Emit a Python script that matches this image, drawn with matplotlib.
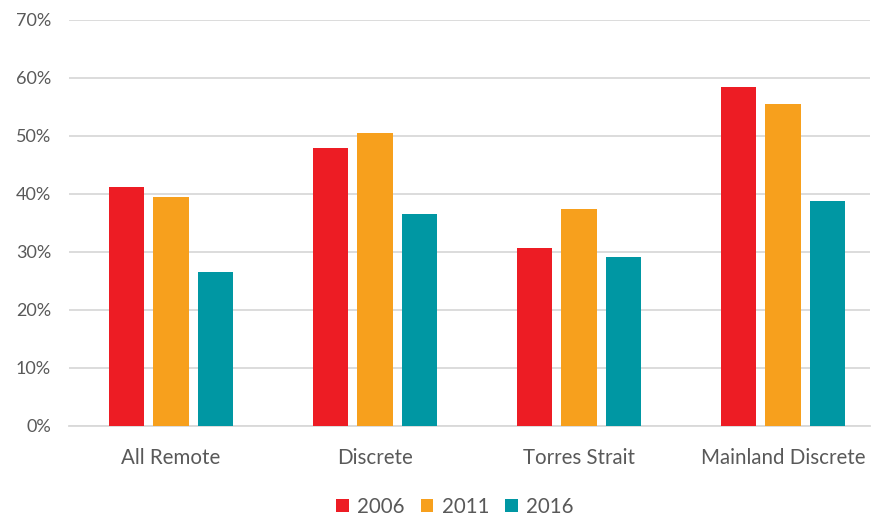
import matplotlib
matplotlib.use("Agg")
import matplotlib.pyplot as plt
import numpy as np

categories = ["All Remote", "Discrete", "Torres Strait", "Mainland Discrete"]
years = ["2006", "2011", "2016"]
v2006 = [41.2, 47.9, 30.7, 58.4]
v2011 = [39.5, 50.5, 37.4, 55.5]
v2016 = [26.6, 36.6, 29.1, 38.8]
colors = ["#ED1C24", "#F7A01D", "#0097A3"]

plt.rcParams['font.family'] = ['Lato', 'DejaVu Sans']
W, H = 873, 518
fig = plt.figure(figsize=(W/100, H/100), dpi=100)
ax = fig.add_axes([69/W, 1-426/H, (870-69)/W, (426-20)/H])

x = np.arange(len(categories))
bw = 0.172
off = 0.22
for i, (vals, c, lab) in enumerate(zip([v2006, v2011, v2016], colors, years)):
    ax.bar(x + (i-1)*off, vals, width=bw, color=c, label=lab, zorder=3)

ax.set_ylim(0, 70)
ax.set_xlim(-0.5, -0.5 + (870-69)/204)
ax.set_yticks(np.arange(0, 71, 10))
ax.set_yticklabels([f"{v}%" for v in range(0, 71, 10)])
ax.set_xticks(x)
ax.set_xticklabels(categories)
ax.yaxis.grid(True, color="#D9D9D9", linewidth=1.3, zorder=0)
ax.set_axisbelow(True)
for s in ["top", "right", "left"]:
    ax.spines[s].set_visible(False)
ax.spines["bottom"].set_color("#D9D9D9")
ax.spines["bottom"].set_linewidth(1.3)
ax.tick_params(axis="y", length=0, labelsize=13, labelcolor="#595959", pad=13)
ax.tick_params(axis="x", length=0, labelsize=14.8, labelcolor="#595959", pad=16)

leg = fig.legend(loc="center", bbox_to_anchor=(455/W, 1-507/H), ncol=3, frameon=False,
                 fontsize=14.8, handlelength=0.6, handleheight=0.6, handletextpad=0.4,
                 columnspacing=0.8)
for t in leg.get_texts():
    t.set_color("#595959")

fig.savefig("out.png", dpi=100)
